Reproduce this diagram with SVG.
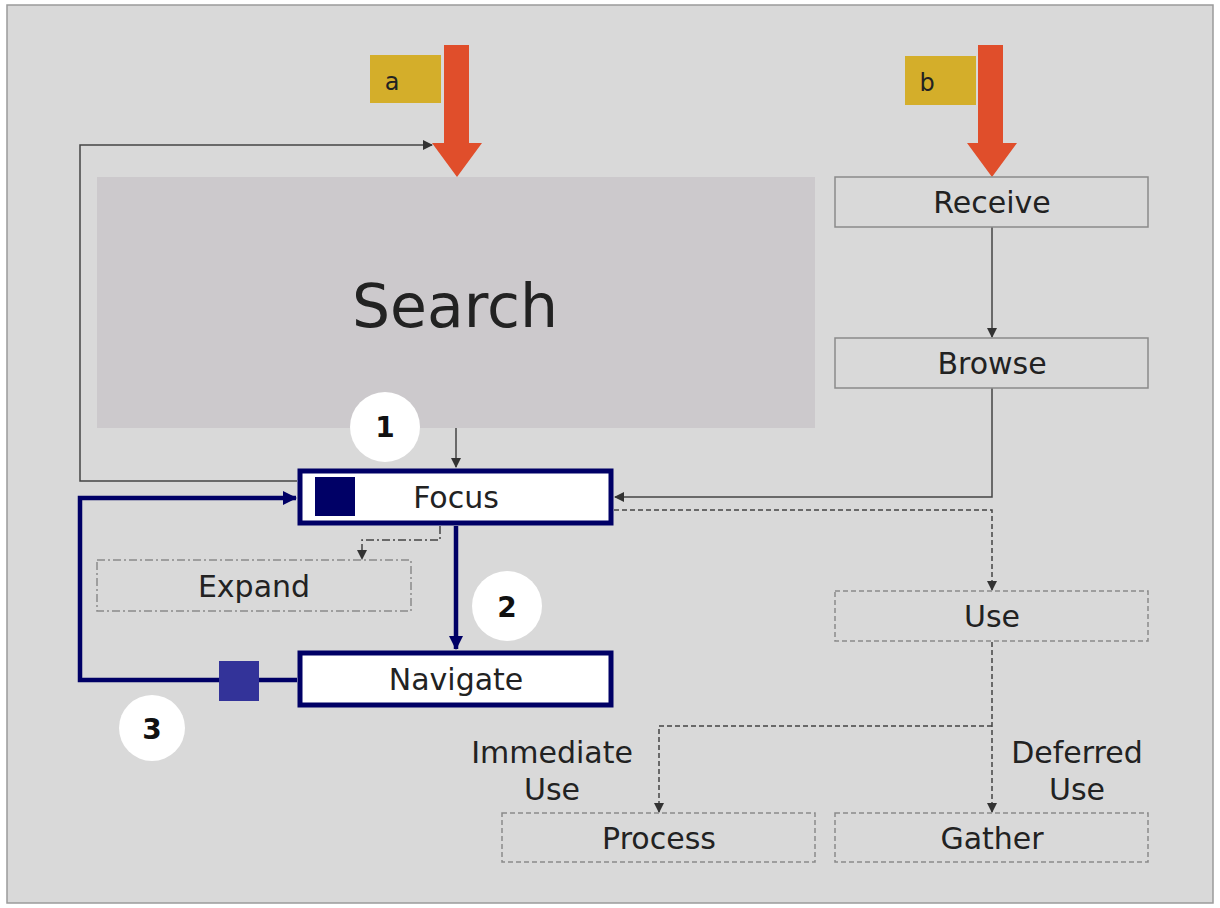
<svg xmlns="http://www.w3.org/2000/svg" width="1220" height="908" viewBox="0 0 1220 908">
<defs>
<style>
.t{font-family:"DejaVu Sans","Verdana",sans-serif;fill:#222;text-anchor:middle;font-size:30px}
.gbox{fill:none;stroke:#8a8a8a;stroke-width:1.5}
.dbox{fill:none;stroke:#8a8a8a;stroke-width:1.5;stroke-dasharray:5 3}
.ddbox{fill:none;stroke:#8a8a8a;stroke-width:1.5;stroke-dasharray:8 3 2 3}
.bbox{fill:#fff;stroke:#000066;stroke-width:5}
.thin{fill:none;stroke:#444;stroke-width:1.5}
.dash{fill:none;stroke:#444;stroke-width:1.5;stroke-dasharray:5 3}
.dd{fill:none;stroke:#444;stroke-width:1.5;stroke-dasharray:8 3 2 3}
.blue{fill:none;stroke:#000066;stroke-width:4.5}
.circ{fill:#fff}
.num{font-family:"DejaVu Sans","Verdana",sans-serif;font-weight:bold;font-size:28px;fill:#111;text-anchor:middle}
.orange{fill:#e04e2b}
.yel{fill:#d4ae2a}
</style>
<marker id="ah" markerWidth="10" markerHeight="10" refX="9" refY="5" orient="auto" markerUnits="userSpaceOnUse">
<path d="M0,0 L10,5 L0,10 z" fill="#333"/>
</marker>
<marker id="ahb" markerWidth="14" markerHeight="14" refX="13" refY="7" orient="auto" markerUnits="userSpaceOnUse">
<path d="M0,0 L14,7 L0,14 z" fill="#000066"/>
</marker>
</defs>
<rect x="0" y="0" width="1220" height="908" fill="#fff"/>
<rect x="7" y="5" width="1206" height="898" fill="#d9d9d9" stroke="#9a9a9a" stroke-width="1.5"/>

<g id="search">
<rect x="97" y="177" width="718" height="251" fill="#ccc9cc"/>
<text class="t" x="455" y="327" style="font-size:60px" fill="#333">Search</text>
</g>

<g id="label-a">
<rect class="yel" x="370" y="55" width="71" height="48"/>
<text class="t" x="392" y="90" style="font-size:24px">a</text>
<path class="orange" d="M444,45 H469 V143 H482 L457,177 L432,143 H444 Z"/>
</g>

<g id="label-b">
<rect class="yel" x="905" y="56" width="71" height="49"/>
<text class="t" x="927" y="91" style="font-size:24px">b</text>
<path class="orange" d="M978,45 H1003 V143 H1017 L992,177 L967,143 H978 Z"/>
</g>

<g id="connectors">
<line class="thin" x1="992" y1="227" x2="992" y2="337" marker-end="url(#ah)"/>
<polyline class="thin" points="992,388 992,497 615,497" marker-end="url(#ah)"/>
<line class="thin" x1="456" y1="428" x2="456" y2="467" marker-end="url(#ah)"/>
<polyline class="thin" points="297,481 80,481 80,145 432,145" marker-end="url(#ah)"/>
<polyline class="blue" points="297,680 80,680 80,498 296,498" marker-end="url(#ahb)"/>
<line class="blue" x1="456" y1="526" x2="456" y2="649" marker-end="url(#ahb)"/>
<polyline class="dd" points="440,526 440,540 362,540 362,559" marker-end="url(#ah)"/>
<polyline class="dash" points="614,510 992,510 992,590" marker-end="url(#ah)"/>
<polyline class="dash" points="992,642 992,812" marker-end="url(#ah)"/>
<polyline class="dash" points="992,726 659,726 659,812" marker-end="url(#ah)"/>
<rect x="219" y="661" width="40" height="40" fill="#333399"/>
</g>

<g id="receive">
<rect class="gbox" x="835" y="177" width="313" height="50"/>
<text class="t" x="992" y="213">Receive</text>
</g>
<g id="browse">
<rect class="gbox" x="835" y="338" width="313" height="50"/>
<text class="t" x="992" y="374">Browse</text>
</g>

<g id="focus">
<rect class="bbox" x="300" y="471" width="311" height="52"/>
<rect x="315" y="477" width="40" height="39" fill="#000066"/>
<text class="t" x="456" y="508" fill="#111">Focus</text>
</g>

<g id="navigate">
<rect class="bbox" x="300" y="653" width="311" height="52"/>
<text class="t" x="456" y="690" fill="#111">Navigate</text>
</g>

<g id="expand">
<rect class="ddbox" x="97" y="560" width="314" height="51"/>
<text class="t" x="254" y="597" fill="#333">Expand</text>
</g>

<g id="use">
<rect class="dbox" x="835" y="591" width="313" height="50"/>
<text class="t" x="992" y="627" fill="#333">Use</text>
</g>

<g id="process">
<rect class="dbox" x="502" y="813" width="313" height="49"/>
<text class="t" x="659" y="849" fill="#333">Process</text>
</g>

<g id="gather">
<rect class="dbox" x="835" y="813" width="313" height="49"/>
<text class="t" x="992" y="849" fill="#333">Gather</text>
</g>

<g id="immediate-label">
<text class="t" x="552" y="763" fill="#333">Immediate</text>
<text class="t" x="552" y="800" fill="#333">Use</text>
</g>
<g id="deferred-label">
<text class="t" x="1077" y="763" fill="#333">Deferred</text>
<text class="t" x="1077" y="800" fill="#333">Use</text>
</g>

<g id="circle-1">
<circle class="circ" cx="385" cy="427" r="35"/>
<text class="num" x="385" y="437">1</text>
</g>
<g id="circle-2">
<circle class="circ" cx="507" cy="606" r="35"/>
<text class="num" x="507" y="617">2</text>
</g>
<g id="circle-3">
<circle class="circ" cx="152" cy="728" r="33"/>
<text class="num" x="152" y="739">3</text>
</g>
</svg>
